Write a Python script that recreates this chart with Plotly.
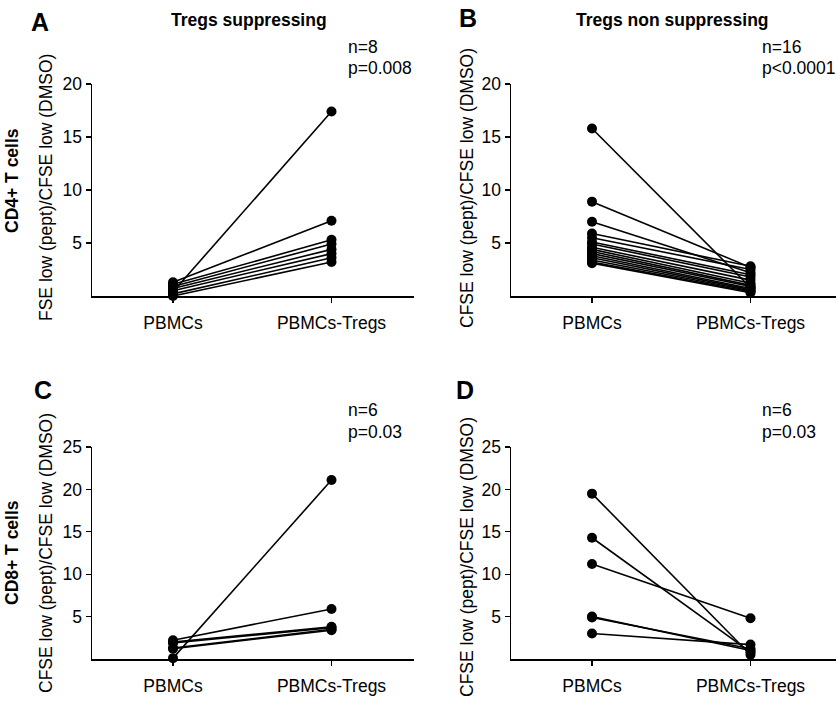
import plotly.graph_objects as go

W, H = 837, 707
categories = ["PBMCs", "PBMCs-Tregs"]

# Panel A: CD4+ T cells, Tregs suppressing (n=8)
A_pbmc = [0.4, 1.3, 1.1, 0.9, 0.7, 0.5, 0.2, 0.0]
A_tregs = [17.4, 7.1, 5.3, 4.9, 4.4, 4.0, 3.6, 3.2]
# Panel B: CD4+ T cells, Tregs non suppressing (n=16)
B_pbmc = [15.8, 8.9, 7.0, 5.9, 5.5, 5.1, 4.9, 4.6, 4.4, 4.2, 4.0, 3.8, 3.6, 3.4, 3.2, 3.1]
B_tregs = [0.8, 2.7, 2.2, 2.8, 2.5, 2.0, 1.8, 1.5, 1.2, 1.0, 0.9, 0.7, 0.6, 0.5, 0.4, 0.3]
# Panel C: CD8+ T cells, suppressing (n=6)
C_pbmc = [0.1, 2.2, 2.0, 1.9, 1.3, 1.2]
C_tregs = [21.1, 5.9, 3.8, 3.7, 3.5, 3.4]
# Panel D: CD8+ T cells, non suppressing (n=6)
D_pbmc = [19.5, 14.3, 11.2, 5.0, 4.9, 3.0]
D_tregs = [0.5, 0.8, 4.8, 1.0, 1.2, 1.7]

panel_letters = ["A", "B", "C", "D"]
col_titles = ["Tregs suppressing", "Tregs non suppressing"]
row_titles = ["CD4+ T cells", "CD8+ T cells"]
stats_n = ["n=8", "n=16", "n=6", "n=6"]
stats_p = ["p=0.008", "p<0.0001", "p=0.03", "p=0.03"]
y_titles = ["FSE low (pept)/CFSE low (DMSO)", "CFSE low (pept)/CFSE low (DMSO)",
            "CFSE low (pept)/CFSE low (DMSO)", "CFSE low (pept)/CFSE low (DMSO)"]
y_max = [20, 20, 25, 25]
y_ticks = [[5, 10, 15, 20], [5, 10, 15, 20], [5, 10, 15, 20, 25], [5, 10, 15, 20, 25]]

FONT = "Liberation Sans, Arial, sans-serif"
fs = 17.5

def px(x):
    return x / W

def py(y):
    return 1 - y / H

# pixel boxes in screen coordinates: (left, right, top, bottom)
boxes = [(92, 414, 84, 296), (511, 836, 84, 296), (92, 414, 447, 659), (511, 836, 447, 659)]

fig = go.Figure()
data = [(A_pbmc, A_tregs), (B_pbmc, B_tregs), (C_pbmc, C_tregs), (D_pbmc, D_tregs)]

for i, (pre, post) in enumerate(data):
    xa = "x" if i == 0 else f"x{i+1}"
    ya = "y" if i == 0 else f"y{i+1}"
    for a, b in zip(pre, post):
        fig.add_trace(go.Scatter(
            x=categories, y=[a, b], xaxis=xa, yaxis=ya,
            mode="lines+markers",
            line=dict(color="black", width=1.6),
            marker=dict(color="black", size=10),
            cliponaxis=False, showlegend=False, hoverinfo="skip"))

layout = dict(width=W, height=H, margin=dict(l=0, r=0, t=0, b=0, autoexpand=False),
              plot_bgcolor="white", paper_bgcolor="white",
              font=dict(family=FONT, size=fs, color="black"))
annotations = []
for i in range(4):
    l, r, t, b = boxes[i]
    xk = "xaxis" if i == 0 else f"xaxis{i+1}"
    yk = "yaxis" if i == 0 else f"yaxis{i+1}"
    ya = "y" if i == 0 else f"y{i+1}"
    xa = "x" if i == 0 else f"x{i+1}"
    # category positions: PBMCs at 173 / 592, PBMCs-Tregs at 331 / 751
    c0 = 173 if i % 2 == 0 else 592
    c1 = c0 + 158.5
    lo = (l - c0) / (c1 - c0)
    hi = (r - c0) / (c1 - c0)
    layout[xk] = dict(domain=[px(l), px(r)], anchor=ya, type="category",
                      categoryorder="array", categoryarray=categories,
                      range=[lo, hi], automargin=False,
                      showline=True, linecolor="black",
                      linewidth=1.5, ticks="outside", ticklen=5, tickwidth=1.2,
                      tickcolor="black", showgrid=False, zeroline=False,
                      ticklabelstandoff=5,
                      tickfont=dict(family=FONT, size=fs))
    layout[yk] = dict(domain=[py(b), py(t)], anchor=xa, range=[0, y_max[i]],
                      tickvals=y_ticks[i], automargin=False,
                      showline=True, linecolor="black",
                      linewidth=1.5, ticks="outside", ticklen=5, tickwidth=1.2,
                      tickcolor="black", showgrid=False, zeroline=False,
                      tickfont=dict(family=FONT, size=fs))

# y-axis titles (rotated annotations for exact placement)
ytitle_pos = [(46, 188), (467, 188), (46, 553), (467, 557)]
for i, (x, y) in enumerate(ytitle_pos):
    annotations.append(dict(text=y_titles[i], x=px(x), y=py(y), xref="paper", yref="paper",
                            textangle=-90, showarrow=False, xanchor="center", yanchor="middle",
                            font=dict(family=FONT, size=fs)))
# row titles
for txt, y in zip(row_titles, [181, 553]):
    annotations.append(dict(text=f"<b>{txt}</b>", x=px(12), y=py(y), xref="paper", yref="paper",
                            textangle=-90, showarrow=False, xanchor="center", yanchor="middle",
                            font=dict(family=FONT, size=fs)))
# column titles
for txt, x in zip(col_titles, [249, 672]):
    annotations.append(dict(text=f"<b>{txt}</b>", x=px(x), y=py(20), xref="paper", yref="paper",
                            showarrow=False, xanchor="center", yanchor="middle",
                            font=dict(family=FONT, size=fs)))
# panel letters
letter_pos = [(40, 22), (468, 18), (43, 390), (465, 390)]
for txt, (x, y) in zip(panel_letters, letter_pos):
    annotations.append(dict(text=f"<b>{txt}</b>", x=px(x), y=py(y), xref="paper", yref="paper",
                            showarrow=False, xanchor="center", yanchor="middle",
                            font=dict(family=FONT, size=25)))
# stats
stat_pos = [(346, 47, 68), (760, 47, 68), (346, 410, 432), (760, 410, 432)]
for i, (x, yn, yp) in enumerate(stat_pos):
    annotations.append(dict(text=stats_n[i], x=px(x), y=py(yn), xref="paper", yref="paper",
                            showarrow=False, xanchor="left", yanchor="middle",
                            font=dict(family=FONT, size=fs)))
    annotations.append(dict(text=stats_p[i], x=px(x), y=py(yp), xref="paper", yref="paper",
                            showarrow=False, xanchor="left", yanchor="middle",
                            font=dict(family=FONT, size=fs)))

layout["annotations"] = annotations
fig.update_layout(**layout)
# remove the default 8px page margin so the figure sits at the window's corner
fig.write_html("out.html",
               config={"displayModeBar": False, "staticPlot": True},
               post_script="document.body.style.margin='0';document.body.style.overflow='hidden';")
